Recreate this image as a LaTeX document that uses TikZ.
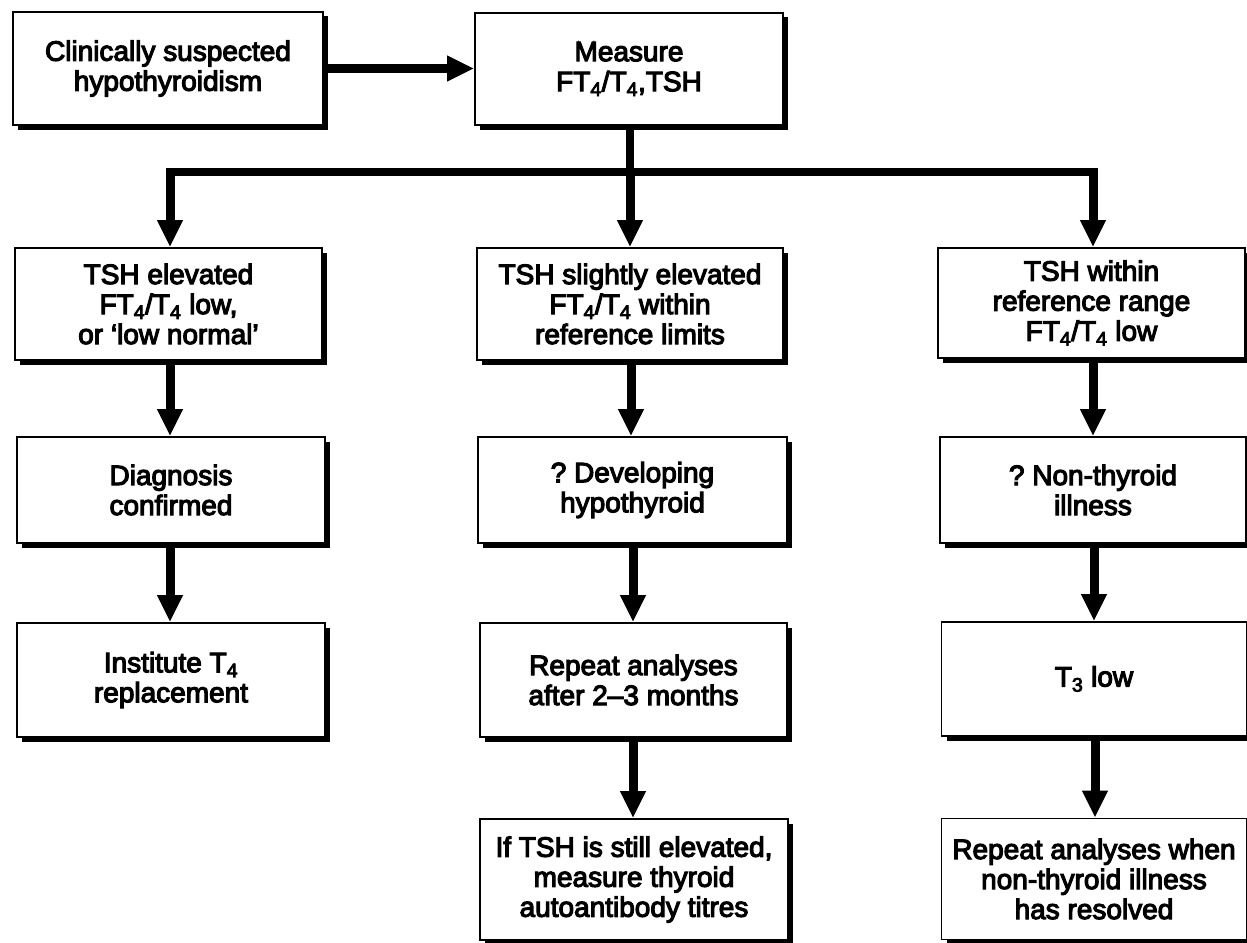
\documentclass[tikz,border=0pt]{standalone}
\usepackage{fontspec}
\setmainfont{Liberation Sans}[FakeBold=4]
\usetikzlibrary{arrows.meta,shadows}
\frenchspacing

\begin{document}
\begin{tikzpicture}[x=1pt,y=-1pt,
  box/.style={draw, line width=1.6pt, fill=white, align=center, inner sep=0pt,
    font=\fontsize{28}{30}\selectfont,
    drop shadow={shadow xshift=5pt, shadow yshift=-4.5pt, fill=black, opacity=1}},
  arr/.style={line width=9pt, -{Triangle[length=27pt,width=24pt]}},
  busline/.style={line width=8pt}]
\useasboundingbox (0,0) rectangle (1247,942);

% top row
\node[box, minimum width=310pt, minimum height=113pt] (start) at (168,68.5)
  {Clinically suspected\\hypothyroidism};
\node[box, minimum width=308pt, minimum height=112pt] (measure) at (629,69)
  {Measure\\FT\textsubscript{4}/T\textsubscript{4},TSH};

% first results row
\node[box, minimum width=307pt, minimum height=112pt] (l1) at (168.5,304)
  {TSH elevated\\FT\textsubscript{4}/T\textsubscript{4} low,\\or `low normal'};
\node[box, minimum width=306pt, minimum height=112pt] (m1) at (630,304)
  {TSH slightly elevated\\FT\textsubscript{4}/T\textsubscript{4} within\\reference limits};
\node[box, minimum width=307pt, minimum height=110pt] (r1) at (1091.5,303)
  {TSH within\\reference range\\FT\textsubscript{4}/T\textsubscript{4} low};

% interpretation row
\node[box, minimum width=308pt, minimum height=106pt] (l2) at (171,490)
  {Diagnosis\\confirmed};
\node[box, minimum width=309pt, minimum height=106pt] (m2) at (632.5,490)
  {? Developing\\hypothyroid};
\node[box, minimum width=306pt, minimum height=106pt] (r2) at (1093,490)
  {? Non-thyroid\\illness};

% action row
\node[box, minimum width=308pt, minimum height=114pt] (l3) at (171,680)
  {Institute T\textsubscript{4}\\replacement};
\node[box, minimum width=307pt, minimum height=114pt] (m3) at (633.5,680)
  {Repeat analyses\\after 2--3 months};
\node[box, minimum width=305pt, minimum height=114pt] (r3) at (1094,679)
  {T\textsubscript{3} low};

% follow-up row
\node[box, minimum width=308pt, minimum height=121pt] (m4) at (634,879.5)
  {If TSH is still elevated,\\measure thyroid\\autoantibody titres};
\node[box, minimum width=305pt, minimum height=121pt] (r4) at (1094,879)
  {Repeat analyses when\\non-thyroid illness\\has resolved};

% connectors
\draw[arr] (start.east) -- (measure.west |- start.east);

\coordinate (bus) at (630,172);
\draw[busline] (measure.south -| bus) -- (bus);
\draw[busline] (170,172) -- (1093,172);
\draw[arr] (170,168) -- (170,0 |- l1.north);
\draw[arr] (bus) -- (bus |- m1.north);
\draw[arr] (1093,168) -- (1093,0 |- r1.north);

\draw[arr] (170,0 |- l1.south) -- (170,0 |- l2.north);
\draw[arr] (170,0 |- l2.south) -- (170,0 |- l3.north);

\draw[arr] (631,0 |- m1.south) -- (631,0 |- m2.north);
\draw[arr] (633,0 |- m2.south) -- (633,0 |- m3.north);
\draw[arr] (633,0 |- m3.south) -- (633,0 |- m4.north);

\draw[arr] (1093,0 |- r1.south) -- (1093,0 |- r2.north);
\draw[arr] (1094,0 |- r2.south) -- (1094,0 |- r3.north);
\draw[arr] (1095,0 |- r3.south) -- (1095,0 |- r4.north);
\end{tikzpicture}
\end{document}
